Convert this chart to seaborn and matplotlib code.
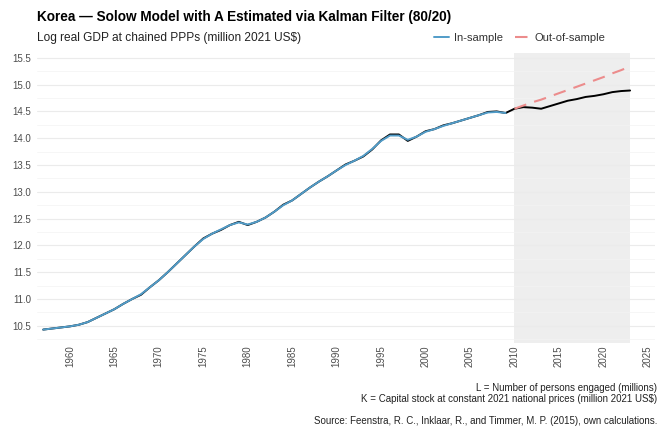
import matplotlib
matplotlib.use("Agg")
import matplotlib.pyplot as plt
from matplotlib.ticker import MultipleLocator, FormatStrFormatter
import pandas as pd
import seaborn as sns

# ---- data -----------------------------------------------------------------
years = list(range(1957, 2024))

log_gdp_actual = [
    10.43, 10.45, 10.47, 10.49, 10.52, 10.57, 10.65, 10.73, 10.81, 10.91,
    11.00, 11.08, 11.22, 11.35, 11.50, 11.66, 11.82, 11.98, 12.13, 12.22,
    12.29, 12.38, 12.44, 12.38, 12.44, 12.52, 12.63, 12.76, 12.84, 12.96,
    13.08, 13.19, 13.29, 13.40, 13.51, 13.58, 13.66, 13.79, 13.96, 14.07,
    14.07, 13.95, 14.03, 14.13, 14.17, 14.24, 14.28, 14.33, 14.38, 14.43,
    14.49, 14.50, 14.47, 14.55, 14.58, 14.57, 14.55, 14.60, 14.65, 14.70,
    14.73, 14.77, 14.79, 14.82, 14.86, 14.88, 14.89,
]

insample_years = list(range(1957, 2010))
log_gdp_fitted = [
    10.43, 10.45, 10.47, 10.49, 10.52, 10.57, 10.65, 10.73, 10.81, 10.91,
    11.00, 11.09, 11.22, 11.35, 11.50, 11.66, 11.82, 11.98, 12.12, 12.22,
    12.30, 12.38, 12.43, 12.39, 12.44, 12.52, 12.63, 12.75, 12.84, 12.96,
    13.08, 13.19, 13.29, 13.40, 13.50, 13.58, 13.67, 13.80, 13.95, 14.05,
    14.05, 13.97, 14.03, 14.12, 14.17, 14.23, 14.28, 14.33, 14.38, 14.43,
    14.48, 14.49, 14.47,
]

outsample_years = list(range(2010, 2024))
log_gdp_forecast = [
    14.55, 14.61, 14.67, 14.72, 14.78, 14.84, 14.90, 14.96, 15.02, 15.08,
    15.14, 15.21, 15.27, 15.34,
]

holdout_start, holdout_end = 2010, 2023
x_ticks = list(range(1960, 2030, 5))

actual = pd.DataFrame({"year": years, "value": log_gdp_actual})
fitted = pd.DataFrame({"year": insample_years, "value": log_gdp_fitted})
forecast = pd.DataFrame({"year": outsample_years, "value": log_gdp_forecast})

# ---- style ----------------------------------------------------------------
sns.set_theme(style="white")
plt.rcParams["font.family"] = ["Liberation Sans", "DejaVu Sans"]

BLUE = "#519CC8"
RED = "#EC8C8C"
GREY_TXT = "#4D4D4D"

fig = plt.figure(figsize=(6.59, 4.28), dpi=100)
ax = fig.add_axes([0.0561, 0.1986, 0.9378, 0.6776])

# shaded hold-out window
ax.axvspan(holdout_start, holdout_end, color="#EBEBEB", alpha=0.85, lw=0, zorder=0)

sns.lineplot(data=actual, x="year", y="value", ax=ax, color="black",
             linewidth=1.4, zorder=3, legend=False)
sns.lineplot(data=fitted, x="year", y="value", ax=ax, color=BLUE,
             linewidth=1.4, zorder=4, label="In-sample")
sns.lineplot(data=forecast, x="year", y="value", ax=ax, color=RED,
             linewidth=1.5, zorder=4, label="Out-of-sample")
ax.lines[-1].set_dashes((6, 4))

ax.set_xlim(1956.3, 2025.8)
ax.set_ylim(10.18, 15.59)
ax.set_xticks(x_ticks)
ax.yaxis.set_major_locator(MultipleLocator(0.5))
ax.yaxis.set_minor_locator(MultipleLocator(0.25))
ax.yaxis.set_major_formatter(FormatStrFormatter("%.1f"))

ax.grid(axis="y", which="major", color="#EBEBEB", linewidth=0.8, zorder=1)
ax.grid(axis="y", which="minor", color="#F3F3F3", linewidth=0.5, zorder=1)
ax.grid(axis="x", visible=False)
for s in ax.spines.values():
    s.set_visible(False)

ax.tick_params(axis="both", which="both", length=0, labelsize=7,
               labelcolor=GREY_TXT)
ax.tick_params(axis="x", rotation=90, pad=1.5)
ax.tick_params(axis="y", pad=4)
ax.set_xlabel("")
ax.set_ylabel("")

# titles
fig.text(37 / 659, 1 - 17 / 428, "Korea — Solow Model with A Estimated via Kalman Filter (80/20)",
         fontsize=9.85, fontweight="bold", ha="left", va="center", color="black")
fig.text(37 / 659, 1 - 38 / 428, "Log real GDP at chained PPPs (million 2021 US$)",
         fontsize=8.6, ha="left", va="center", color="#222222")

leg = ax.legend(loc="center right", bbox_to_anchor=(611 / 659, 1 - 38 / 428),
                bbox_transform=fig.transFigure, ncol=2, frameon=False,
                fontsize=8, handlelength=1.3, columnspacing=1.0,
                handletextpad=0.5, borderpad=0)
for t in leg.get_texts():
    t.set_color("#333333")

# captions
fig.text(657 / 659, 1 - 388 / 428, "L = Number of persons engaged (millions)",
         fontsize=7, ha="right", va="center", color="#222222")
fig.text(657 / 659, 1 - 399 / 428,
         "K = Capital stock at constant 2021 national prices (million 2021 US$)",
         fontsize=7, ha="right", va="center", color="#222222")
fig.text(657 / 659, 1 - 421 / 428,
         "Source: Feenstra, R. C., Inklaar, R., and Timmer, M. P. (2015), own calculations.",
         fontsize=7, ha="right", va="center", color="#222222")

fig.savefig("out.png", dpi=100)
